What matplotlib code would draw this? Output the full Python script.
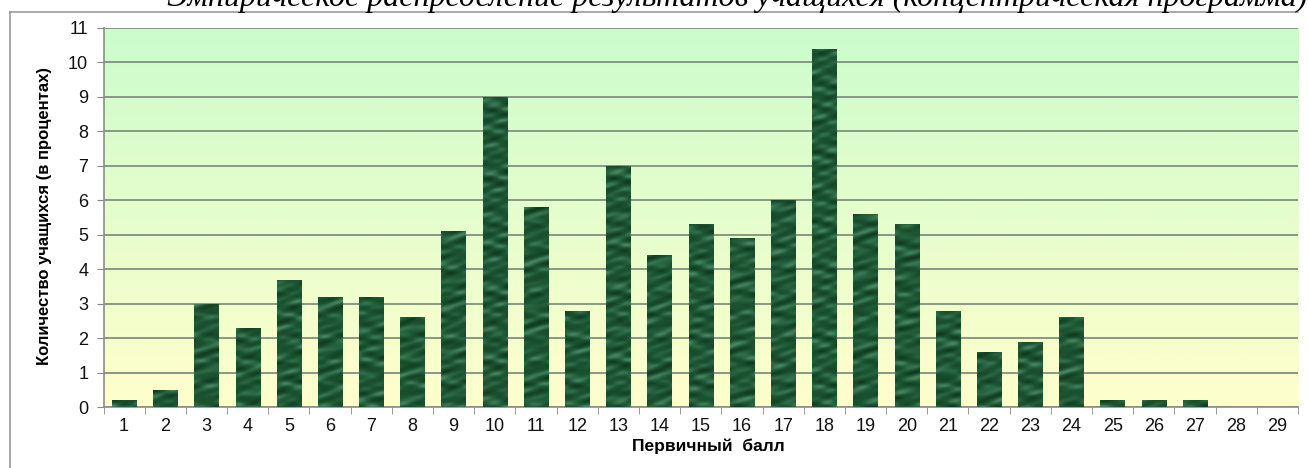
import numpy as np
import matplotlib.pyplot as plt
from matplotlib.colors import LinearSegmentedColormap
from matplotlib.lines import Line2D

# primary score and share of pupils (%)
scores = [str(i) for i in range(1, 30)]
percent = [0.2, 0.5, 3.0, 2.3, 3.7, 3.2, 3.2, 2.6, 5.1, 9.0,
           5.8, 2.8, 7.0, 4.4, 5.3, 4.9, 6.0, 10.4, 5.6, 5.3,
           2.8, 1.6, 1.9, 2.6, 0.2, 0.2, 0.2, 0.0, 0.0]
yticks = list(range(0, 12))

title = "Эмпирическое распределение результатов учащихся (концентрическая программа)"
ylabel = "Количество учащихся (в процентах)"
xlabel = "Первичный  балл"

W, H = 1308, 468
fig = plt.figure(figsize=(W / 100, H / 100), dpi=100)
ax = fig.add_axes([103.5 / W, (H - 407) / H, (1298 - 103.5) / W, (407 - 28) / H])

# gradient background: light green top -> pale yellow bottom
bg = LinearSegmentedColormap.from_list("bg", ["#ffffcc", "#ccfccc"])
grad = np.linspace(0, 1, 256).reshape(-1, 1)
ax.imshow(grad, cmap=bg, aspect="auto", origin="lower",
          extent=[-0.5, 28.5, 0, 11], zorder=0)

x = np.arange(len(scores))
bars = ax.bar(x, percent, width=0.59, color="#1b4d30", edgecolor="none",
              zorder=3)

# marble-like texture inside the bars (deterministic pattern)
gx, gy = np.meshgrid(np.linspace(0, 60, 600), np.linspace(0, 80, 800))
tex = (np.sin(gx * 2.9 + 2.5 * np.sin(gy * 1.3))
       + np.sin(gy * 2.1 + 2.0 * np.sin(gx * 1.9))
       + 0.8 * np.sin(gx * 5.3 - gy * 3.1 + np.sin(gx * 0.7)))
marble = LinearSegmentedColormap.from_list(
    "marble", ["#0f3a1f", "#174a2b", "#1d5633", "#2f6c48", "#4b8565"])
for b in bars:
    if b.get_height() <= 0:
        continue
    im = ax.imshow(tex, cmap=marble, aspect="auto", origin="lower",
                   extent=[-0.5, 28.5, 0, 11], zorder=3.5,
                   interpolation="bilinear")
    im.set_clip_path(b)

ax.set_xlim(-0.5, 28.5)
ax.set_ylim(0, 11)
ax.set_yticks(yticks)
ax.set_xticks(x)
ax.set_xticklabels(scores)
ax.set_xticks(np.arange(-0.5, 29, 1), minor=True)
ax.tick_params(axis="x", which="major", length=0, pad=8)
ax.tick_params(axis="x", which="minor", length=5, color="#888888", direction="out")
ax.tick_params(axis="y", length=5, color="#888888", pad=6)
for lbl in ax.get_xticklabels() + ax.get_yticklabels():
    lbl.set_fontfamily("Liberation Sans")
    lbl.set_fontsize(13)
    lbl.set_color("#111111")

ax.grid(axis="y", color="#879885", linewidth=1.4, zorder=1)
for s in ["top", "right"]:
    ax.spines[s].set_visible(False)
for s in ["left", "bottom"]:
    ax.spines[s].set_color("#8c8c8c")
    ax.spines[s].set_linewidth(1.2)

fig.text(45 / W, (H - 216) / H, ylabel, rotation=90, ha="center", va="center",
         fontsize=12, fontweight="bold",
         family=["Liberation Sans Narrow", "Liberation Sans", "DejaVu Sans"])
fig.text(708 / W, (H - 446) / H, xlabel, ha="center", va="center",
         fontsize=12.5, fontweight="bold", family="Liberation Sans")

# outer frame
fig.add_artist(Line2D([10 / W, 1298 / W], [(H - 12) / H] * 2,
                      color="#9a9a9a", linewidth=1.2))
fig.add_artist(Line2D([10 / W, 10 / W], [0, (H - 12) / H],
                      color="#9a9a9a", linewidth=1.2))

# title, cut off at the top edge as in the source picture
fig.text(167 / W, (H - 6) / H, title, ha="left", va="baseline",
         fontsize=23, style="italic", family="Liberation Serif")

fig.savefig("out.png", dpi=100)
